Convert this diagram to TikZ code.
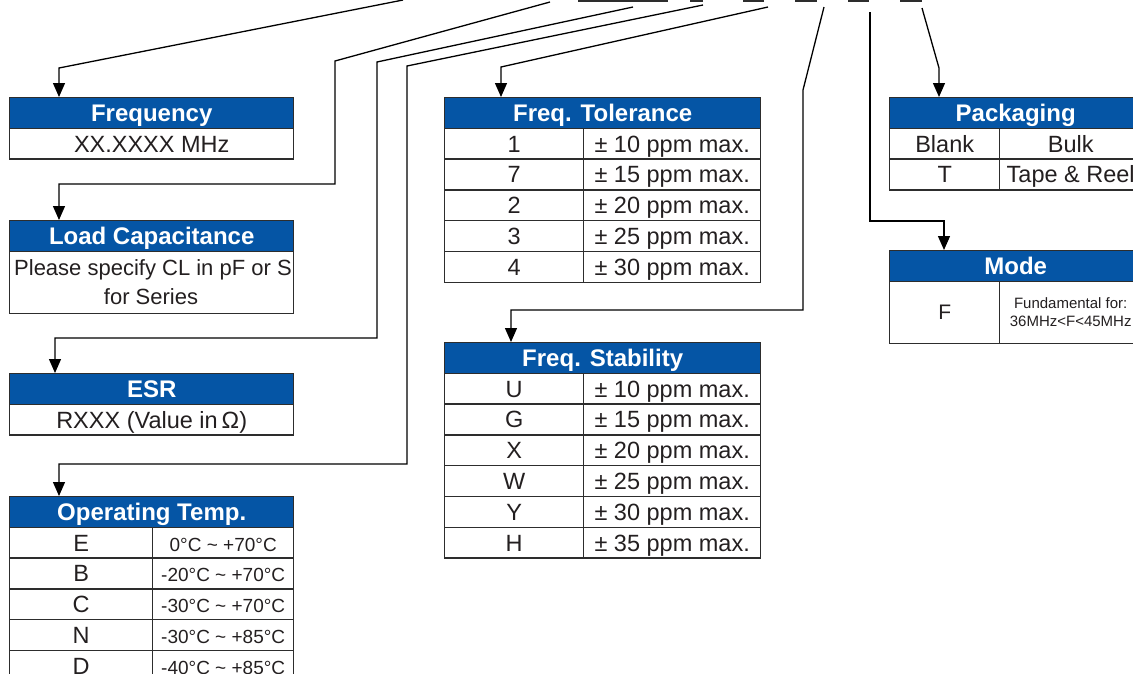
\documentclass[tikz,border=0pt]{standalone}
\usepackage{fontspec}
\setmainfont{Liberation Sans}
\usetikzlibrary{arrows.meta}
\definecolor{hdrblue}{RGB}{5,85,165}
\definecolor{rulegray}{RGB}{45,45,45}
\definecolor{ink}{RGB}{35,31,32}
\tikzset{
	hdr/.style={draw=rulegray, line width=1.4pt, fill=hdrblue, text=white, anchor=north west, inner sep=0pt, minimum height=30.5pt, text height=18pt, text depth=0pt, font=\fontsize{24}{28}\selectfont\bfseries},
	cell/.style={draw=rulegray, line width=1.4pt, anchor=north west, inner sep=0pt, minimum height=30.8pt, text height=17.5pt, text depth=0.5pt, text=ink, font=\fontsize{23.5}{27}\selectfont},
	smallcell/.style={cell, font=\fontsize{19}{23}\selectfont},
	tallcell/.style={draw=rulegray, line width=1.4pt, anchor=north west, inner sep=0pt, minimum height=62pt, text=ink, align=center},
	lead/.style={line width=1.3pt, -{Triangle[width=12pt,length=14pt]}}
}

\begin{document}
\begin{tikzpicture}[x=1pt,y=-1pt]
				  \useasboundingbox (0,0) rectangle (1133,673);
				  \clip (0,0) rectangle (1133,673);
				  \foreach \a/\b in {578/668, 690/703, 743/764, 795/817, 848/869, 900/922}
				    \draw[rulegray, line width=2pt] (\a,1) -- (\b,1);
				  \node[hdr, minimum width=284pt] (freqhdr) at (9,97) {Frequency};
				  \node[cell, minimum width=284pt] (freqval) at (9,127.5) {XX.XXXX MHz};
				  \node[hdr, minimum width=284pt] (loadhdr) at (9,220) {Load Capacitance};
				  \node[tallcell, minimum width=284pt] (loadval) at (9,250.5) {};
				  \begin{scope}
				    \clip (loadval.south west) rectangle (loadval.north east);
				    \node[text=ink, anchor=west, inner sep=0pt, font=\fontsize{22}{26}\selectfont] (loadtxt) at (14,270) {Please specify CL in pF or S};
				  \end{scope}
				  \node[text=ink, inner sep=0pt, font=\fontsize{22}{26}\selectfont] (loadtxtb) at (151,297) {for Series};
				  \node[hdr, minimum width=284pt] (esrhdr) at (9,373) {ESR};
				  \node[cell, minimum width=284pt] (esrval) at (9,403.5) {RXXX (Value in\,Ω)};
				  \node[hdr, minimum width=284pt] (temphdr) at (9,496) {Operating Temp.};
				  \foreach \k/\v [count=\i from 0] in {E/0°C \textasciitilde{} +70°C, B/-20°C \textasciitilde{} +70°C, C/-30°C \textasciitilde{} +70°C, N/-30°C \textasciitilde{} +85°C, D/-40°C \textasciitilde{} +85°C} {
				    \node[cell, minimum width=143pt] (tempkey\i) at (9,{526.5+30.8*\i}) {\k};
				    \node[smallcell, minimum width=141pt] (tempval\i) at (152,{526.5+30.8*\i}) {\v};
				  }
				  \node[hdr, minimum width=316pt] (tolhdr) at (444,97) {Freq. Tolerance};
				  \foreach \k/\v [count=\i from 0] in {1/10, 7/15, 2/20, 3/25, 4/30} {
				    \node[cell, minimum width=139pt] (tolkey\i) at (444,{127.5+30.8*\i}) {\k};
				    \node[cell, minimum width=177pt] (tolval\i) at (583,{127.5+30.8*\i}) {± \v{} ppm max.};
				  }
				  \node[hdr, minimum width=316pt] (stabhdr) at (444,342) {Freq. Stability};
				  \foreach \k/\v [count=\i from 0] in {U/10, G/15, X/20, W/25, Y/30, H/35} {
				    \node[cell, minimum width=139pt] (stabkey\i) at (444,{372.5+30.8*\i}) {\k};
				    \node[cell, minimum width=177pt] (stabval\i) at (583,{372.5+30.8*\i}) {± \v{} ppm max.};
				  }
				  \node[hdr, minimum width=252pt] (packhdr) at (889,97) {Packaging};
				  \foreach \k/\v [count=\i from 0] in {Blank/Bulk, T/Tape \& Reel} {
				    \node[cell, minimum width=110pt] (packkey\i) at (889,{127.5+30.8*\i}) {\k};
				    \node[cell, minimum width=142pt] (packval\i) at (999,{127.5+30.8*\i}) {\v};
				  }
				  \node[hdr, minimum width=252pt] (modehdr) at (889,250) {Mode};
				  \node[tallcell, minimum width=110pt, font=\fontsize{21}{25}\selectfont] (modekey) at (889,280.5) {F};
				  \node[tallcell, minimum width=142pt, font=\fontsize{15}{18}\selectfont] (modeval) at (999,280.5) {Fundamental for:\\36MHz<F<45MHz};
				  \coordinate (pfreq) at (403,0);
				  \coordinate (pload) at (550,2);
				  \coordinate (pesr) at (633,7);
				  \coordinate (ptemp) at (703,5);
				  \coordinate (ptol) at (768,7);
				  \coordinate (pstab) at (824,7);
				  \coordinate (pmode) at (870,12);
				  \coordinate (ppack) at (922,8);
				  \draw[lead] (pfreq) -- (59,68) -- (59,0 |- freqhdr.north);
				  \draw[lead] (pload) -- (335,61) -- (335,184) -- (59,184) -- (59,0 |- loadhdr.north);
				  \draw[lead] (pesr) -- (377,62) -- (377,338) -- (55,338) -- (55,0 |- esrhdr.north);
				  \draw[lead] (ptemp) -- (407,66) -- (407,464) -- (59,464) -- (59,0 |- temphdr.north);
				  \draw[lead] (ptol) -- (501,67) -- (501,0 |- tolhdr.north);
				  \draw[lead] (pstab) -- (803,90) -- (803,310) -- (511,310) -- (511,0 |- stabhdr.north);
				  \draw[lead] (pmode) -- (870,221) -- (944,221) -- (944,0 |- modehdr.north);
				  \draw[lead] (ppack) -- (939,68) -- (939,0 |- packhdr.north);
				\end{tikzpicture}
\end{document}
